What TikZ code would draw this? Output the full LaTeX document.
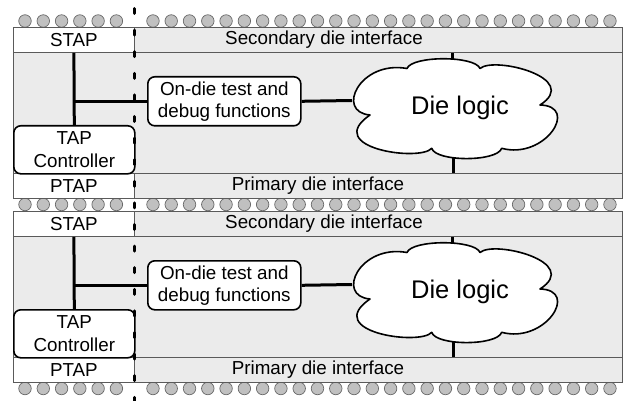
\documentclass[tikz,border=0pt]{standalone}
\usepackage{fontspec}
\setmainfont{Liberation Sans}
\definecolor{diefill}{RGB}{235,235,235}
\definecolor{edgegray}{RGB}{90,90,90}
\definecolor{bumpfill}{RGB}{192,192,192}
\definecolor{bumpedge}{RGB}{105,105,105}
\tikzset{
  rowbox/.style={draw=edgegray,line width=0.8pt,inner sep=0pt,anchor=north west},
  whitebox/.style={rowbox,fill=white},
  graybox/.style={rowbox,fill=diefill},
  roundbox/.style={draw=black,line width=1.6pt,fill=white,rounded corners=7pt,
    inner sep=0pt,anchor=north west,align=center},
  txt/.style={font=\fontsize{18.8}{22}\selectfont,inner sep=0pt,align=center},
  bigtxt/.style={font=\fontsize{25.5}{28}\selectfont,inner sep=0pt},
  logic/.style={draw=black,line width=1.6pt,fill=white,line join=round},
  wire/.style={line width=3pt},
  bump/.style={circle,draw=bumpedge,fill=bumpfill,line width=0.7pt,
    minimum size=12.5pt,inner sep=0pt},
  cut/.style={line width=3pt,line cap=round,dash pattern=on 5pt off 16.6pt}
}
\begin{document}
\begin{tikzpicture}[x=1pt,y=-1pt]
\useasboundingbox (0,0) rectangle (626,401);

% solder bumps above, between and below the two dies
\foreach \r/\yb in {a/21,b/204.5,c/388.5}{
  \foreach \k in {0,...,32}{
    \ifnum\k=6\else
      \node[bump] (bump\r\k) at ({25+18.28*\k},\yb) {};
    \fi
  }
}

% two stacked dies
\foreach \i/\dy in {1/0,2/184}{
  \node[graybox,minimum width=609pt,minimum height=171pt] (die\i) at (13,27+\dy) {};
  \node[whitebox,minimum width=121pt,minimum height=25pt] (stap\i) at (13,27+\dy) {};
  \node[graybox,minimum width=488pt,minimum height=25pt] (sec\i) at (134,27+\dy) {};
  \node[whitebox,minimum width=121pt,minimum height=25pt] (ptap\i) at (13,173+\dy) {};
  \node[graybox,minimum width=488pt,minimum height=25pt] (pri\i) at (134,173+\dy) {};
  \node[txt] (stapt\i) at (stap\i.center) {STAP};
  \node[txt] (ptapt\i) at (ptap\i.center) {PTAP};
  \node[txt] (sect\i) at (324,39.5+\dy) {Secondary die interface};
  \node[txt] (prit\i) at (318,185.5+\dy) {Primary die interface};
  \node[roundbox,minimum width=121pt,minimum height=48pt,txt] (tap\i) at (13,125+\dy)
    {TAP\\[1pt]Controller};
  \node[roundbox,minimum width=153pt,minimum height=49pt,txt] (ondie\i) at (147,76+\dy)
    {On-die test and\\[0pt]debug functions};

  % points where the wires meet the die logic cloud
  \coordinate (cloudw\i) at (352,100.5+\dy);
  \coordinate (cloudn\i) at (452,60+\dy);
  \coordinate (clouds\i) at (453,157+\dy);

  \draw[wire] (stap\i.south) -- (tap\i.north);
  \draw[wire] (ondie\i.west) -- (ondie\i.west -| stap\i.south);
  \draw[wire] (ondie\i.east) -- (cloudw\i);
  \draw[wire] (sec\i.south -| cloudn\i) -- (cloudn\i);
  \draw[wire] (clouds\i) -- (pri\i.north -| clouds\i);

  % die logic cloud
  \draw[logic] (370,115+\dy)
    .. controls (335,112+\dy) and (360,60+\dy) .. (407,68.5+\dy)
    .. controls (412,55.5+\dy) and (475,55.5+\dy) .. (480,68.5+\dy)
    .. controls (494,56+\dy) and (582,78+\dy) .. (540,105+\dy)
    .. controls (580,106+\dy) and (545,160+\dy) .. (501.7,148.3+\dy)
    .. controls (497,162+\dy) and (436,162+\dy) .. (431.7,148.3+\dy)
    .. controls (420,162+\dy) and (322,148+\dy) .. cycle;
  \node[bigtxt] (logict\i) at (460,108+\dy) {Die logic};
}

% cut line between the test region and the rest of the die
\coordinate (cuttop) at (134,8.5);
\coordinate (cutbot) at (134,401);
\draw[cut] (cuttop) -- (cutbot);
\end{tikzpicture}
\end{document}
